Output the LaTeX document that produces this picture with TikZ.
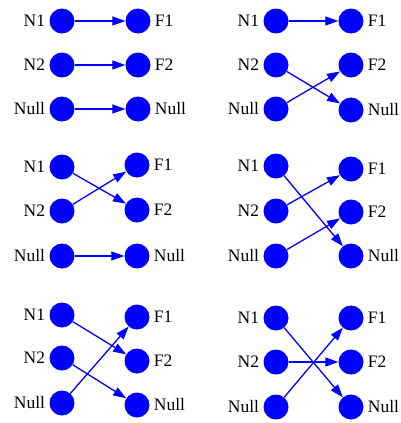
\documentclass[tikz,border=0pt]{standalone}
\usepackage{fontspec}
\setmainfont{Liberation Serif}
\usetikzlibrary{arrows.meta}

\begin{document}
\begin{tikzpicture}[x=1pt,y=-1pt]
\tikzset{vertex/.style = {shape=circle,fill=blue,minimum size=25pt,inner sep=0pt}}
\tikzset{edge/.style = {-{Triangle[length=13pt,width=9pt]},blue,line width=1.3pt}}
\tikzset{every label/.style = {label distance=3pt,inner sep=1pt,font=\fontsize{17.5}{21}\selectfont}}
\useasboundingbox (0,0) rectangle (401,423);

% top left
\node[vertex,label=left:N1] (n1a) at (62,21) {};
\node[vertex,label=left:N2] (n2a) at (62,65) {};
\node[vertex,label=left:Null] (nna) at (62,109) {};
\node[vertex,label=right:F1] (f1a) at (138,21) {};
\node[vertex,label=right:F2] (f2a) at (138,65) {};
\node[vertex,label=right:Null] (fna) at (138,109) {};
\draw[edge] (n1a) to (f1a);
\draw[edge] (n2a) to (f2a);
\draw[edge] (nna) to (fna);

% top right
\node[vertex,label=left:N1] (n1b) at (276,21) {};
\node[vertex,label=left:N2] (n2b) at (276,65) {};
\node[vertex,label=left:Null] (nnb) at (276,109) {};
\node[vertex,label=right:F1] (f1b) at (351,21) {};
\node[vertex,label=right:F2] (f2b) at (351,65) {};
\node[vertex,label=right:Null] (fnb) at (351,110) {};
\draw[edge] (n1b) to (f1b);
\draw[edge] (n2b) to (fnb);
\draw[edge] (nnb) to (f2b);

% middle left
\node[vertex,label=left:N1] (n1c) at (62,167) {};
\node[vertex,label=left:N2] (n2c) at (62,211) {};
\node[vertex,label=left:Null] (nnc) at (62,256) {};
\node[vertex,label=right:F1] (f1c) at (137,165) {};
\node[vertex,label=right:F2] (f2c) at (137,210) {};
\node[vertex,label=right:Null] (fnc) at (137,256) {};
\draw[edge] (n1c) to (f2c);
\draw[edge] (n2c) to (f1c);
\draw[edge] (nnc) to (fnc);

% middle right
\node[vertex,label=left:N1] (n1d) at (276,166) {};
\node[vertex,label=left:N2] (n2d) at (276,211) {};
\node[vertex,label=left:Null] (nnd) at (276,256) {};
\node[vertex,label=right:F1] (f1d) at (351,169) {};
\node[vertex,label=right:F2] (f2d) at (351,212) {};
\node[vertex,label=right:Null] (fnd) at (351,256) {};
\draw[edge] (n1d) to (fnd);
\draw[edge] (n2d) to (f1d);
\draw[edge] (nnd) to (f2d);

% bottom left
\node[vertex,label=left:N1] (n1e) at (62,315) {};
\node[vertex,label=left:N2] (n2e) at (62,358) {};
\node[vertex,label=left:Null] (nne) at (62,403) {};
\node[vertex,label=right:F1] (f1e) at (137,317) {};
\node[vertex,label=right:F2] (f2e) at (137,361) {};
\node[vertex,label=right:Null] (fne) at (137,405) {};
\draw[edge] (n1e) to (f2e);
\draw[edge] (n2e) to (fne);
\draw[edge] (nne) to (f1e);

% bottom right
\node[vertex,label=left:N1] (n1f) at (276,318) {};
\node[vertex,label=left:N2] (n2f) at (276,362) {};
\node[vertex,label=left:Null] (nnf) at (276,407) {};
\node[vertex,label=right:F1] (f1f) at (351,318) {};
\node[vertex,label=right:F2] (f2f) at (351,362) {};
\node[vertex,label=right:Null] (fnf) at (351,407) {};
\draw[edge] (n1f) to (fnf);
\draw[edge] (n2f) to (f2f);
\draw[edge] (nnf) to (f1f);
\end{tikzpicture}
\end{document}
